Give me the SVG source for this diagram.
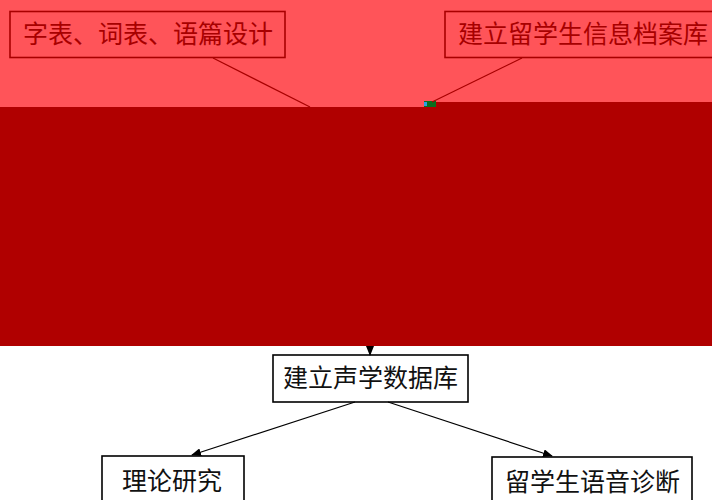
<svg xmlns="http://www.w3.org/2000/svg" width="712" height="500" viewBox="0 0 712 500">
<style>
.box{fill:none;stroke:#000;stroke-width:1.6}
.rbox{fill:none;stroke:#a80000;stroke-width:1.6}
.t{font-family:"Noto Sans CJK SC","Noto Sans CJK TC",sans-serif;font-size:25px;text-anchor:middle;fill:#111}
.rt{fill:#a80000}
.c{stroke:#000;stroke-width:1.2;fill:none}
.rc{stroke:#a80000;stroke-width:1.2;fill:none}
</style>
<defs>
<marker id="ah" markerWidth="10" markerHeight="8" refX="9" refY="4" orient="auto" markerUnits="userSpaceOnUse">
<path d="M0,0 L10,4 L0,8 Z" fill="#000"/>
</marker>
</defs>
<rect x="0" y="0" width="712" height="500" fill="#fff"/>
<rect x="0" y="0" width="712" height="107" fill="#ff5459"/>
<rect x="0" y="107" width="712" height="239" fill="#b00000"/>
<rect x="424" y="102" width="288" height="5" fill="#b00000"/>
<rect x="424" y="101" width="12" height="6" fill="#0a6e1e"/>
<rect x="424" y="102" width="3" height="4" fill="#2aa0e0"/>
<g id="connectors">
<line class="rc" x1="213" y1="58" x2="310" y2="107"/>
<line class="rc" x1="522" y1="58" x2="432" y2="102"/>
<line class="c" x1="370" y1="346" x2="370" y2="355" marker-end="url(#ah)"/>
<line class="c" x1="355" y1="402" x2="192" y2="455" marker-end="url(#ah)"/>
<line class="c" x1="388" y1="402" x2="552" y2="456" marker-end="url(#ah)"/>
</g>
<g id="n1">
<rect class="rbox" x="10" y="11.5" width="275" height="46"/>
<text class="t rt" x="148" y="43">字表、词表、语篇设计</text>
</g>
<g id="n2">
<rect class="rbox" x="445" y="11.5" width="275" height="46"/>
<text class="t rt" x="583" y="43">建立留学生信息档案库</text>
</g>
<g id="n3">
<rect class="box" x="273" y="355" width="195" height="47"/>
<text class="t" x="370.5" y="387">建立声学数据库</text>
</g>
<g id="n4">
<rect class="box" x="102" y="456" width="142" height="60"/>
<text class="t" x="172" y="490">理论研究</text>
</g>
<g id="n5">
<rect class="box" x="492" y="457" width="200" height="60"/>
<text class="t" x="592.5" y="491">留学生语音诊断</text>
</g>
</svg>
